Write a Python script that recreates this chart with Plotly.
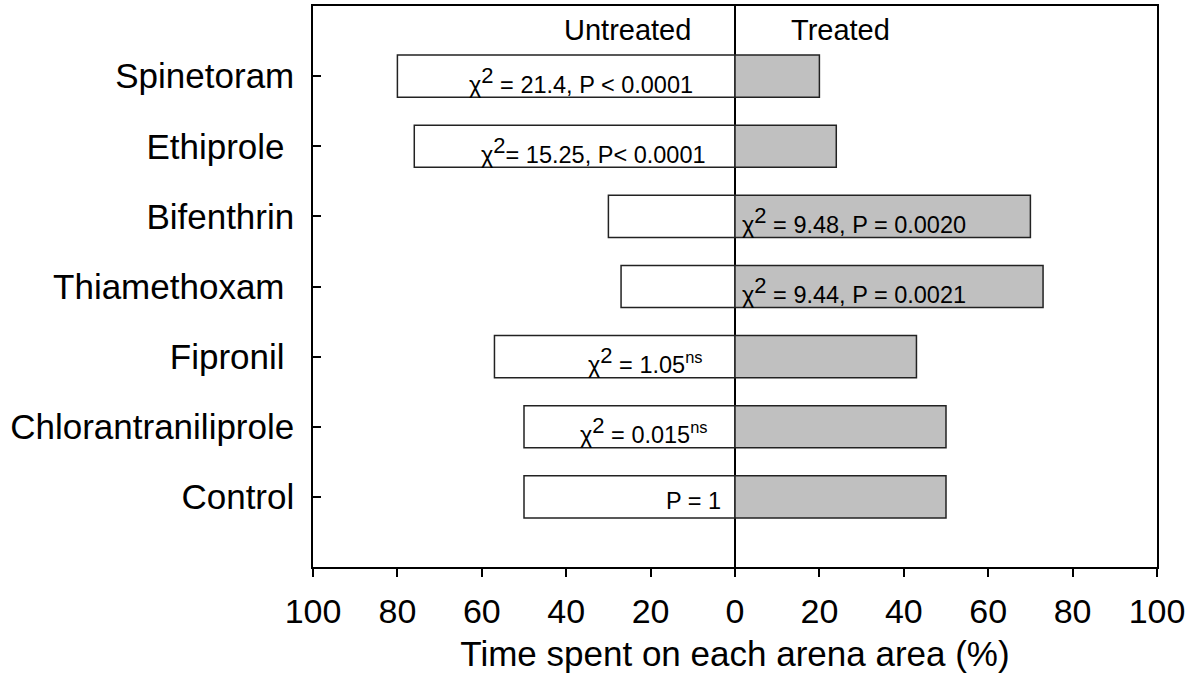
import plotly.graph_objects as go

categories = ["Spinetoram", "Ethiprole", "Bifenthrin", "Thiamethoxam",
              "Fipronil", "Chlorantraniliprole", "Control"]
tick_names = ["Spinetoram", "Ethiprole\u00a0", "Bifenthrin", "Thiamethoxam\u00a0",
              "Fipronil\u00a0", "Chlorantraniliprole", "Control"]
untreated = [80, 76, 30, 27, 57, 50, 50]
treated = [20, 24, 70, 73, 43, 50, 50]
SUP2 = "<sup><span style='font-size:22px'>2</span></sup>"
stat_text = [
    "χ" + SUP2 + " = 21.4, P &lt; 0.0001",
    "χ" + SUP2 + "= 15.25, P&lt; 0.0001",
    "χ" + SUP2 + " = 9.48, P = 0.0020",
    "χ" + SUP2 + " = 9.44, P = 0.0021",
    "χ" + SUP2 + " = 1.05<sup>ns</sup>",
    "χ" + SUP2 + " = 0.015<sup>ns</sup>",
    "P = 1",
]
stat_x = [-9.5, -6.4, 1.2, 1.2, -7.1, -6.0, -2.8]
stat_anchor = ["right", "right", "left", "left", "right", "right", "right"]
x_ticks = [-100, -80, -60, -40, -20, 0, 20, 40, 60, 80, 100]
x_ticktext = [str(abs(v)) for v in x_ticks]

FONT = "Arial, Liberation Sans, sans-serif"

fig = go.Figure()
fig.add_trace(go.Bar(
    y=categories, x=[-v for v in untreated], orientation="h", width=0.6,
    marker=dict(color="white", line=dict(color="#222222", width=1.5)),
    name="Untreated", showlegend=False, hoverinfo="skip",
))
fig.add_trace(go.Bar(
    y=categories, x=treated, orientation="h", width=0.6,
    marker=dict(color="#c0c0c0", line=dict(color="#222222", width=1.5)),
    name="Treated", showlegend=False, hoverinfo="skip",
))

annotations = []
for cat, txt, xv, anc in zip(categories, stat_text, stat_x, stat_anchor):
    annotations.append(dict(
        x=xv, y=cat, xref="x", yref="y", text=txt, showarrow=False,
        xanchor=anc, yanchor="middle", yshift=-4,
        font=dict(family=FONT, size=23.5, color="black"),
    ))
annotations.append(dict(x=-25.5, y=1, xref="x", yref="paper", yshift=-24,
                        text="Untreated", showarrow=False, xanchor="center", yanchor="middle",
                        font=dict(family=FONT, size=29, color="black")))
annotations.append(dict(x=25, y=1, xref="x", yref="paper", yshift=-24,
                        text="Treated", showarrow=False, xanchor="center", yanchor="middle",
                        font=dict(family=FONT, size=29, color="black")))

fig.update_layout(
    width=1194, height=685,
    margin=dict(l=313, r=37, t=4, b=118),
    paper_bgcolor="white", plot_bgcolor="white",
    barmode="overlay",
    annotations=annotations,
    font=dict(family=FONT, color="black"),
    xaxis=dict(
        range=[-100, 100], tickvals=x_ticks, ticktext=x_ticktext,
        ticks="outside", ticklen=8, tickwidth=1.5, tickcolor="black",
        showline=True, linecolor="black", linewidth=1.5, mirror=True,
        showgrid=False, zeroline=True, zerolinecolor="black", zerolinewidth=1.5,
        tickfont=dict(family=FONT, size=34, color="black"),
        ticklabelstandoff=5,
        title=dict(text="Time spent on each arena area (%)",
                   font=dict(family=FONT, size=35, color="black"), standoff=13),
    ),
    yaxis=dict(
        type="category", categoryorder="array", categoryarray=categories[::-1],
        tickvals=categories, ticktext=tick_names,
        range=[-1, 7],
        ticks="inside", ticklen=8, tickwidth=1.5, tickcolor="black",
        showline=True, linecolor="black", linewidth=1.5, mirror=True,
        showgrid=False, zeroline=False,
        tickfont=dict(family=FONT, size=35, color="black"),
        ticklabelstandoff=10,
    ),
)

fig.write_html("out.html", config={"displayModeBar": False},
               post_script="document.body.style.margin='0';")
